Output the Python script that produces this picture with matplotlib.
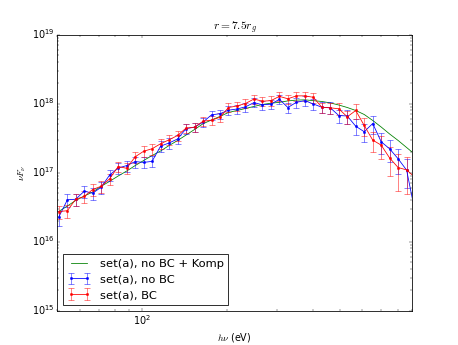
import matplotlib
matplotlib.use('Agg')
import matplotlib.pyplot as plt

DPI = 57.5
FIG_SIZE = (458 / DPI, 345 / DPI)

# photon energy (eV)
energy = [50.6, 54.3, 58.1, 62.3, 66.7, 71.5, 76.6, 82.1, 88.0, 94.3,
          101.0, 108.2, 116.0, 124.3, 133.2, 142.7, 152.9, 163.8, 175.6, 188.1,
          201.6, 216.0, 231.5, 248.0, 265.8, 284.8, 305.2, 327.0, 350.4, 375.5,
          402.3, 431.1, 461.9, 494.9, 530.4, 568.3, 608.9, 652.5, 699.2, 749.2,
          802.7, 860.2, 921.7]

# nuF_nu in units of 1e17
komp = [0.272, 0.327, 0.393, 0.456, 0.521, 0.631, 0.745, 0.889, 1.05, 1.26,
        1.49, 1.76, 2.05, 2.46, 2.91, 3.49, 4.20, 5.08, 5.77, 6.49,
        7.41, 7.92, 8.47, 9.06, 9.68, 10.1, 10.4, 10.9, 11.2, 11.3,
        11.0, 10.7, 10.2, 9.51, 8.75, 7.92, 6.93, 5.68, 4.56, 3.61,
        2.91, 2.30, 1.82]

no_bc = [0.225, 0.402, 0.410, 0.536, 0.501, 0.612, 0.920, 1.16, 1.26, 1.44,
         1.40, 1.45, 2.41, 2.68, 3.06, 4.32, 4.54, 5.36, 6.85, 7.11,
         8.00, 8.32, 8.95, 10.3, 9.57, 9.77, 11.5, 8.75, 10.4, 11.0,
         9.84, 8.83, 8.66, 6.70, 6.59, 4.68, 3.90, 5.13, 2.79, 2.20,
         1.58, 1.08, 0.263]

bc = [0.272, 0.279, 0.410, 0.449, 0.567, 0.632, 0.811, 1.22, 1.15, 1.69,
      2.03, 2.21, 2.61, 2.98, 3.44, 4.40, 4.54, 5.52, 5.74, 6.32,
      8.75, 9.20, 10.0, 11.6, 10.8, 11.0, 12.7, 11.7, 12.9, 12.9,
      12.3, 8.83, 8.66, 8.38, 6.41, 7.92, 4.80, 2.95, 2.49, 1.62,
      1.18, 1.09, 0.847]

# relative errors
err_no_bc = [0.25, 0.22, 0.2, 0.2, 0.2, 0.2, 0.18, 0.18, 0.18, 0.18,
             0.18, 0.18, 0.17, 0.17, 0.16, 0.16, 0.16, 0.15, 0.15, 0.15,
             0.15, 0.15, 0.15, 0.15, 0.15, 0.15, 0.15, 0.16, 0.16, 0.16,
             0.17, 0.18, 0.2, 0.22, 0.24, 0.26, 0.28, 0.3, 0.33, 0.36,
             0.4, 0.45, 0.5]

err_bc = [0.22, 0.22, 0.2, 0.2, 0.2, 0.2, 0.18, 0.18, 0.18, 0.18,
          0.18, 0.18, 0.17, 0.17, 0.16, 0.16, 0.16, 0.15, 0.15, 0.15,
          0.15, 0.15, 0.15, 0.15, 0.15, 0.15, 0.15, 0.15, 0.15, 0.15,
          0.16, 0.17, 0.18, 0.2, 0.22, 0.25, 0.3, 0.33, 0.38, 0.45,
          0.55, 0.55, 0.55]

plt.style.use('classic')

scale = 1e17
komp = [v * scale for v in komp]
no_bc = [v * scale for v in no_bc]
bc = [v * scale for v in bc]
yerr_no_bc = [v * e for v, e in zip(no_bc, err_no_bc)]
yerr_bc = [v * e for v, e in zip(bc, err_bc)]

fig = plt.figure(figsize=FIG_SIZE, dpi=DPI)
ax = fig.add_subplot(111)

ax.plot(energy, komp, color='g', lw=1, label='set(a), no BC + Komp')
ax.errorbar(energy, no_bc, yerr=yerr_no_bc, color='b', ecolor=(0, 0, 1, 0.5),
            marker='o', ms=3, mec='b', lw=1, elinewidth=1.2, capsize=3.5,
            capthick=1.2, label='set(a), no BC')
ax.errorbar(energy, bc, yerr=yerr_bc, color='r', ecolor=(1, 0, 0, 0.5),
            marker='o', ms=3, mec='r', lw=1, elinewidth=1.2, capsize=3.5,
            capthick=1.2, label='set(a), BC')

ax.set_xscale('log')
ax.set_yscale('log')
ax.set_xlim(50, 900)
ax.set_ylim(1e15, 1e19)

ax.set_title(r'$r=7.5r_g$')
ax.set_xlabel(r'$h\nu$ (eV)')
ax.set_ylabel(r'$\nu F_\nu$')
ax.legend(loc='lower left')

fig.savefig('out.png', dpi=DPI, facecolor='white')
